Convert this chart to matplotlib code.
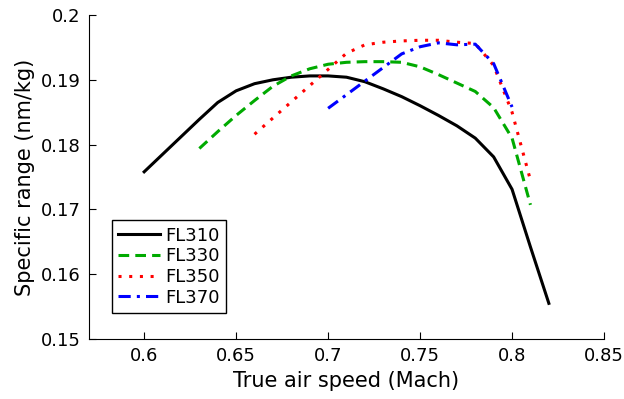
import numpy as np
import matplotlib
matplotlib.use("Agg")
import matplotlib.pyplot as plt

# speeds (Mach) and specific range (nm/kg) per flight level
mach310 = [0.60, 0.61, 0.62, 0.63, 0.64, 0.65, 0.66, 0.67, 0.68, 0.69, 0.70, 0.71,
           0.72, 0.73, 0.74, 0.75, 0.76, 0.77, 0.78, 0.79, 0.80, 0.81, 0.82]
sr310 = [0.1758, 0.1785, 0.1812, 0.1839, 0.1865, 0.1883, 0.1894, 0.1900, 0.1904, 0.1906, 0.1906, 0.1904,
         0.1897, 0.1886, 0.1874, 0.1860, 0.1845, 0.1829, 0.1810, 0.1781, 0.1731, 0.1642, 0.1555]

mach330 = [0.63, 0.64, 0.65, 0.66, 0.67, 0.68, 0.69, 0.70, 0.71, 0.72, 0.73, 0.74,
           0.75, 0.76, 0.77, 0.78, 0.79, 0.80, 0.81]
sr330 = [0.1794, 0.1820, 0.1845, 0.1868, 0.1890, 0.1906, 0.1917, 0.1924, 0.1927, 0.1928, 0.1928, 0.1927,
         0.1920, 0.1908, 0.1895, 0.1882, 0.1857, 0.1810, 0.1707]

mach350 = [0.66, 0.67, 0.68, 0.69, 0.70, 0.71, 0.72, 0.73, 0.74, 0.75, 0.76, 0.77,
           0.78, 0.79, 0.80, 0.81]
sr350 = [0.1816, 0.1841, 0.1866, 0.1891, 0.1916, 0.1941, 0.1954, 0.1958, 0.1960, 0.1961, 0.1961, 0.1958,
         0.1956, 0.1922, 0.1850, 0.1745]

mach370 = [0.70, 0.71, 0.72, 0.73, 0.74, 0.75, 0.76, 0.77, 0.78, 0.79, 0.80]
sr370 = [0.1856, 0.1877, 0.1898, 0.1919, 0.1940, 0.1951, 0.1957, 0.1954, 0.1955, 0.1925, 0.1858]

fig = plt.figure(figsize=(6.24, 3.99), dpi=100)
ax = fig.add_axes([0.1426, 0.1504, 0.8254, 0.812])

ax.plot(mach310, sr310, color="k", lw=2.2, ls="-", label="FL310")
ax.plot(mach330, sr330, color="#00aa00", lw=2.2, ls=(0, (3.5, 2)), label="FL330")
ax.plot(mach350, sr350, color="r", lw=2.2, ls=(0, (1, 2.5)), label="FL350")
ax.plot(mach370, sr370, color="b", lw=2.2, ls=(0, (4, 2, 1, 2)), label="FL370")

ax.set_xlim(0.57, 0.85)
ax.set_ylim(0.15, 0.2)
ax.set_xticks([0.6, 0.65, 0.7, 0.75, 0.8, 0.85])
ax.set_xticklabels(["0.6", "0.65", "0.7", "0.75", "0.8", "0.85"])
ax.set_yticks([0.15, 0.16, 0.17, 0.18, 0.19, 0.2])
ax.set_yticklabels(["0.15", "0.16", "0.17", "0.18", "0.19", "0.2"])
ax.tick_params(direction="in", length=5, labelsize=13, pad=6)
ax.spines["top"].set_visible(False)
ax.spines["right"].set_visible(False)

ax.set_xlabel("True air speed (Mach)", fontsize=15, labelpad=4)
ax.set_ylabel("Specific range (nm/kg)", fontsize=15, labelpad=4)

leg = ax.legend(loc="lower left", bbox_to_anchor=(0.045, 0.08), fontsize=13,
                fancybox=False, edgecolor="k", framealpha=1, handlelength=2.3,
                handletextpad=0.3, labelspacing=0.15, borderpad=0.35, borderaxespad=0)
leg.get_frame().set_linewidth(1.0)

fig.savefig("out.png", dpi=100)
